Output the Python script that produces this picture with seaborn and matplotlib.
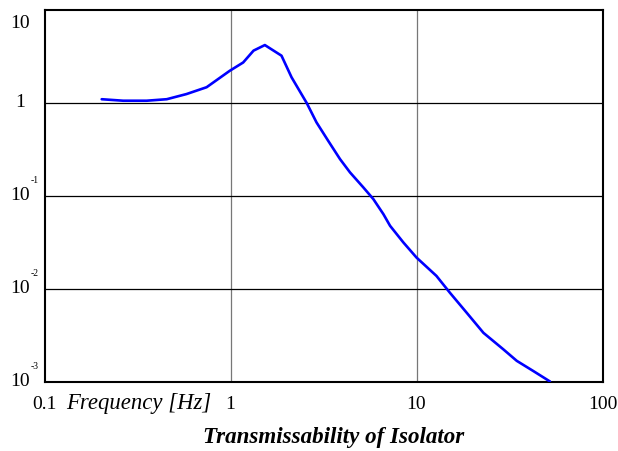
import numpy as np
import pandas as pd
import matplotlib
matplotlib.use("Agg")
import matplotlib.pyplot as plt
import matplotlib.transforms as mtransforms
import seaborn as sns

# Data
freq = [0.203, 0.265, 0.354, 0.454, 0.58, 0.744, 0.99, 1.17, 1.33, 1.53, 1.88,
        2.13, 2.57, 2.9, 3.36, 3.88, 4.39, 5.18, 5.86, 6.64, 7.21, 8.5, 10.0,
        12.8, 15.1, 18.6, 22.9, 29.3, 34.6, 42.5, 52.2]
trans = [1.10, 1.06, 1.06, 1.10, 1.25, 1.48, 2.22, 2.73, 3.66, 4.2, 3.23,
         1.89, 1.0, 0.62, 0.39, 0.25, 0.18, 0.124, 0.093, 0.064, 0.048, 0.0318,
         0.0219, 0.0139, 0.0092, 0.0056, 0.0034, 0.00226, 0.0017, 0.00132, 0.00102]

xticks = [0.1, 1, 10, 100]
xticklabels = ["0.1", "1", "10", "100"]
yticks = [10, 1, 0.1, 0.01, 0.001]
ybase = ["10", "1", "10", "10", "10"]
ysup = ["", "", "-1", "-2", "-3"]

df = pd.DataFrame({"Frequency": freq, "Transmissibility": trans})

sns.set_style("white")
plt.rcParams["font.family"] = ["Liberation Serif", "DejaVu Serif"]
plt.rcParams["text.color"] = "black"
plt.rcParams["xtick.color"] = "black"
plt.rcParams["ytick.color"] = "black"

W, H = 618, 452
fig = plt.figure(figsize=(W / 100, H / 100), dpi=100)
L, R, T, B = 44.5, 602.5, 11, 383.3
ax = fig.add_axes([L / W, 1 - B / H, (R - L) / W, (B - T) / H])

sns.lineplot(data=df, x="Frequency", y="Transmissibility", ax=ax,
             color="#0000ff", linewidth=1.9, zorder=3)
ax.set_xscale("log")
ax.set_yscale("log")
ax.set_xlim(0.1, 100)
ax.set_ylim(0.001, 10)
ax.minorticks_off()

for v in [1, 10]:
    ax.axvline(v, color="#777777", linewidth=0.9, zorder=1)
for v in [1, 0.1, 0.01]:
    ax.axhline(v, color="black", linewidth=0.9, zorder=1)

for s in ax.spines.values():
    s.set_color("black")
    s.set_linewidth(1.5)

ax.set_xticks(xticks)
ax.set_xticklabels(xticklabels, fontsize=14, color="black")
ax.tick_params(axis="x", length=0, pad=9)
ax.set_yticks([])
ax.set_xlabel("")
ax.set_ylabel("")

trans_b = mtransforms.blended_transform_factory(ax.transAxes, ax.transData)
xb = (20 - L) / (R - L)
xs = (31 - L) / (R - L)
for yv, b, sp in zip(yticks, ybase, ysup):
    dy = -12 if yv == 10 else 1.5
    t_base = trans_b + mtransforms.ScaledTranslation(0, dy / 100, fig.dpi_scale_trans)
    ax.text(xb, yv, b, transform=t_base, ha="center", va="center", fontsize=14,
            color="black")
    if sp:
        t_sup = trans_b + mtransforms.ScaledTranslation(0, (dy + 15) / 100, fig.dpi_scale_trans)
        ax.text(xs, yv, sp, transform=t_sup, ha="left", va="center", fontsize=7,
                color="black")

fig.text(66 / W, 1 - 404 / H, "Frequency [Hz]", ha="left", va="center",
         fontsize=16.4, style="italic", color="black")
fig.text(334 / W, 1 - 438 / H, "Transmissability of Isolator", ha="center",
         va="center", fontsize=16.6, style="italic", weight="bold", color="black")

fig.savefig("out.png", dpi=100)
